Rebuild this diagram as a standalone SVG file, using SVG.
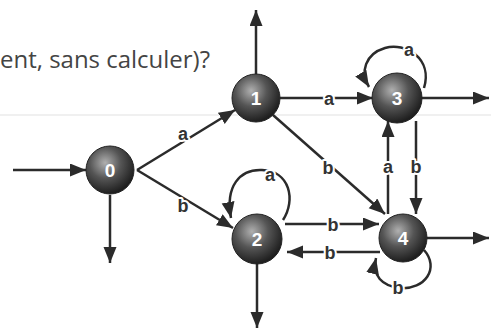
<svg xmlns="http://www.w3.org/2000/svg" width="491" height="330" viewBox="0 0 491 330">
<defs>
<radialGradient id="sph" cx="40%" cy="35%" r="65%">
<stop offset="0" stop-color="#b0b0b0"/>
<stop offset="0.5" stop-color="#555"/>
<stop offset="1" stop-color="#1e1e1e"/>
</radialGradient>
<marker id="ah" markerUnits="userSpaceOnUse" markerWidth="18" markerHeight="14" refX="16" refY="6.5" orient="auto">
<path d="M0,0 L16,6.5 L0,13 z" fill="#2b2b2b"/>
</marker>
</defs>
<style>
.e{fill:none;stroke:#2b2b2b;stroke-width:2.5;marker-end:url(#ah)}
.n{fill:url(#sph);stroke:#222;stroke-width:1}
.d{font-family:"Liberation Sans",Arial,sans-serif;font-weight:bold;font-size:19px;fill:#fff;text-anchor:middle}
.l{font-family:"Liberation Sans",Arial,sans-serif;font-weight:bold;font-size:18px;fill:#333;text-anchor:middle;stroke:#fff;stroke-width:4;paint-order:stroke;stroke-linejoin:round}
</style>
<rect width="491" height="330" fill="#fff"/>
<line x1="0" y1="115" x2="491" y2="115" stroke="#e2e2e2" stroke-width="1.2"/>
<text x="0" y="68" font-family="'Open Sans',sans-serif" font-size="23" fill="#444" textLength="210" lengthAdjust="spacingAndGlyphs">ent, sans calculer)?</text>
<g id="connectors">
<path class="e" d="M13,170 L86,170"/>
<path class="e" d="M110,195 L110,263"/>
<path class="e" d="M137,170 L235,110"/>
<path class="e" d="M137,170 L233,228"/>
<path class="e" d="M256,74 L256,10"/>
<path class="e" d="M280,98 L373,98"/>
<path class="e" d="M273,115 L385,214"/>
<path class="e" d="M424,88 C433,58 405,42 385,48 C365,54 360,72 369,87"/>
<path class="e" d="M421,98 L489,98"/>
<path class="e" d="M416,121 L416,214"/>
<path class="e" d="M388,214 L388,121"/>
<path class="e" d="M283,220 C296,200 290,171 262,170 C240,169 225,186 231,218"/>
<path class="e" d="M285,224 L379,224"/>
<path class="e" d="M380,252 L287,252"/>
<path class="e" d="M424,250 C440,268 425,290 400,288 C382,286 372,276 376,258"/>
<path class="e" d="M427,238 L489,238"/>
<path class="e" d="M257,263 L257,328"/>
<text class="l" x="183" y="140">a</text>
<text class="l" x="183" y="212">b</text>
<text class="l" x="329" y="105">a</text>
<text class="l" x="328" y="174">b</text>
<text class="l" x="409" y="56">a</text>
<text class="l" x="270" y="181">a</text>
<text class="l" x="388" y="173">a</text>
<text class="l" x="416" y="173">b</text>
<text class="l" x="333" y="231">b</text>
<text class="l" x="330" y="259">b</text>
<text class="l" x="398" y="294">b</text>
</g>
<g id="n0"><circle class="n" cx="110" cy="170" r="24"/><text class="d" x="110" y="177">0</text></g>
<g id="n1"><circle class="n" cx="256" cy="98" r="24"/><text class="d" x="256" y="105">1</text></g>
<g id="n2"><circle class="n" cx="257" cy="239" r="25"/><text class="d" x="257" y="246">2</text></g>
<g id="n3"><circle class="n" cx="397" cy="98" r="25"/><text class="d" x="397" y="105">3</text></g>
<g id="n4"><circle class="n" cx="403" cy="238" r="24"/><text class="d" x="403" y="245">4</text></g>
</svg>
